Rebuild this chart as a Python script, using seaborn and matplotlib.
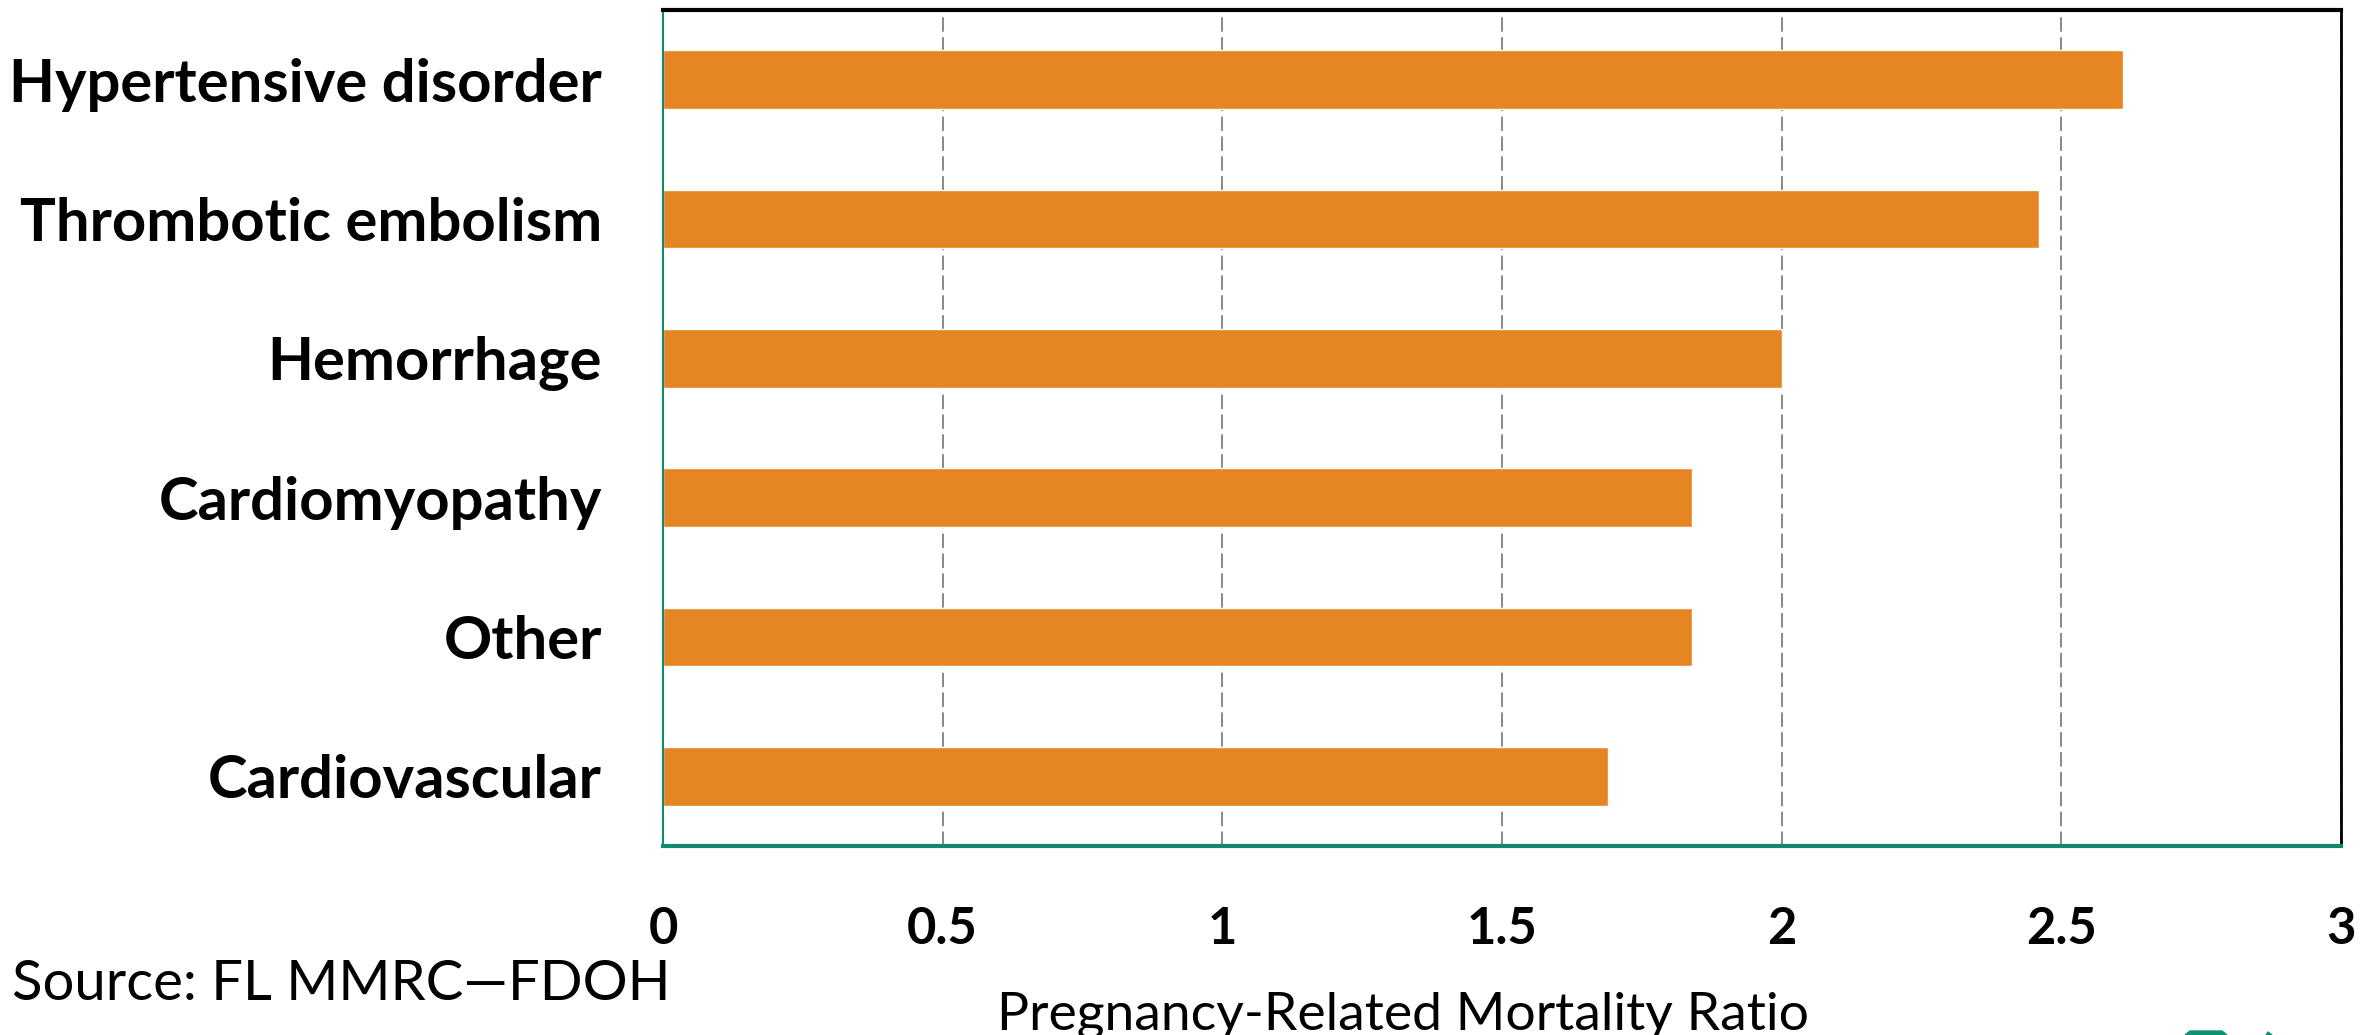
import matplotlib
matplotlib.use("Agg")
import matplotlib.pyplot as plt
from matplotlib.patches import Polygon
import seaborn as sns
import pandas as pd

# Data
causes = ["Hypertensive disorder", "Thrombotic embolism", "Hemorrhage",
          "Cardiomyopathy", "Other", "Cardiovascular"]
ratios = [2.61, 2.46, 2.00, 1.84, 1.84, 1.69]
x_ticks = [0, 0.5, 1, 1.5, 2, 2.5, 3]
x_tick_labels = ["0", "0.5", "1", "1.5", "2", "2.5", "3"]

df = pd.DataFrame({"cause": causes, "ratio": ratios})

sns.set_theme(style="white")
plt.rcParams["font.family"] = ["Lato", "DejaVu Sans"]

W, H = 2379, 1035
fig = plt.figure(figsize=(W / 100, H / 100), dpi=100)
# axes box in pixels: left 663, right 2341, top 10, bottom 846
ax = fig.add_axes([663 / W, (H - 846) / H, (2341 - 663) / W, (846 - 10) / H])

sns.barplot(data=df, x="ratio", y="cause", orient="h", color="#E58524",
            saturation=1, width=0.42, ax=ax)

ax.set_xlim(0, 3)
ax.set_ylim(5.5, -0.5)
ax.set_xticks(x_ticks)
ax.set_xticklabels(x_tick_labels, fontsize=36.5, fontweight="bold", color="black")
ax.set_yticks(range(len(causes)))
ax.set_yticklabels(causes, fontsize=43, fontweight="bold", color="black")
ax.tick_params(axis="x", length=0, pad=43)
ax.tick_params(axis="y", length=0, pad=44)
ax.set_ylabel("")

ax.grid(axis="x", color="#7f7f7f", linestyle=(0, (8, 3)), linewidth=1.3)
ax.grid(axis="y", visible=False)
ax.set_axisbelow(True)

teal = "#128A70"
ax.spines["top"].set_color("black")
ax.spines["top"].set_linewidth(3)
ax.spines["right"].set_color("black")
ax.spines["right"].set_linewidth(2)
ax.spines["left"].set_color(teal)
ax.spines["left"].set_linewidth(1.5)
ax.spines["bottom"].set_color(teal)
ax.spines["bottom"].set_linewidth(3)

ax.set_xlabel("Pregnancy-Related Mortality Ratio", fontsize=38.5, color="black", va="center")
ax.xaxis.set_label_coords((1403 - 663) / 1678, (846 - 1015) / 836)

fig.text(12 / W, (H - 985) / H, "Source: FL MMRC\u2014FDOH", fontsize=40.5,
         color="black", ha="left", va="center")

# small cut-off logo fragment at the bottom edge
fig.patches.append(Polygon([(2185 / W, 0), (2190 / W, 4 / H), (2222 / W, 4 / H), (2227 / W, 0)],
                           closed=True, transform=fig.transFigure, color="#0E9274"))
fig.patches.append(Polygon([(2266 / W, 0), (2268 / W, 3 / H), (2272 / W, 0)],
                           closed=True, transform=fig.transFigure, color="#0E9274"))

fig.savefig("out.png", dpi=100)
